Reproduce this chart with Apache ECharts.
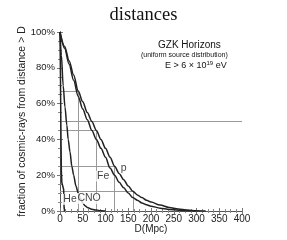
<!DOCTYPE html>
<html><head><meta charset="utf-8">
<script src="https://cdn.jsdelivr.net/npm/echarts@6/dist/echarts.min.js"></script>
<style>html,body{margin:0;padding:0;background:#fff}#c{width:287px;height:240px}</style>
</head><body><div id="c"></div>
<script>
// Data
const pD   = [0,10,20,30,40,50,60,70,80,90,100,110,120,130,140,150,160,170,180,190,200,220,240,260,280,300,320];
const pF   = [100,92,84,76,67,61,55,50,45,40,35,30,25,21,17.5,14,11,9,7.5,6,5,3.3,2,1.1,0.5,0.2,0];
const feD  = [0,10,20,30,40,50,60,70,80,90,100,110,120,130,140,150,160,170,180,190,200,220,240,260,280,300];
const feF  = [100,91,82,73,64,57,51,45,40,35,30,24,20,16,13,10,7.5,6,4.5,3.5,2.7,1.6,0.9,0.4,0.15,0];
const heD  = [0,1,2,3,4,6,8,9,10];
const heF  = [100,75,45,22,16,15,12,2,0];
const cnoD = [0,3,7,11,15,18,22,26,30,35,40,45,50,55,60,70,80,90,100];
const cnoF = [100,87,70,58,48,40,33,25,20,14,10,7,4.5,3,2,1,0.5,0.2,0];
const dropD = [40,80,120,160];
const dropF = [67,45,25,11];
const refLine = 50;
const xTicks = [0,50,100,150,200,250,300,350,400];
const yTicks = [0,20,40,60,80,100];
const curveLabels = [
  {name:'p',   d:140, f:24},
  {name:'Fe',  d:95,  f:19.5},
  {name:'He',  d:22,  f:6.5},
  {name:'CNO', d:64,  f:7}
];

const FONT = 'Liberation Sans, Arial, sans-serif';
const zip = (a,b)=>a.map((v,i)=>[v,b[i]]);
const chart = echarts.init(document.getElementById('c'), null, {renderer:'canvas'});

const dropLines = [];
dropD.forEach((d,i)=>{
  dropLines.push([{coord:[0,dropF[i]]},{coord:[d,dropF[i]]}]);
  dropLines.push([{coord:[d,dropF[i]]},{coord:[d,0]}]);
});
dropLines.push([{coord:[0,refLine]},{coord:[400,refLine]}]);

const curveStyle = {color:'#222', width:1.5};
function curve(name, D, F, extra){
  return Object.assign({
    type:'line', name, data: zip(D,F), showSymbol:false, symbol:'none',
    smooth:0.3, smoothMonotone:'x', lineStyle:curveStyle, z:5, silent:true
  }, extra||{});
}

chart.setOption({
  animation:false,
  title:{text:'distances', left:'center', top:1,
    textStyle:{fontFamily:'Liberation Serif, Times New Roman, serif', fontSize:18.5, fontWeight:'normal', color:'#111'}},
  grid:{left:60, right:45, top:32, bottom:29},
  xAxis:[{
    type:'value', min:0, max:400, interval:50,
    name:'D(Mpc)', nameLocation:'middle', nameGap:13, nameMoveOverlap:false,
    nameTextStyle:{fontFamily:FONT, fontSize:10, color:'#222'},
    axisLine:{lineStyle:{color:'#555'}},
    axisTick:{show:true, inside:true, length:3, lineStyle:{color:'#777'}},
    minorTick:{show:true, splitNumber:4, length:2, lineStyle:{color:'#888'}},
    splitLine:{show:false},
    axisLabel:{fontFamily:FONT, fontSize:10, color:'#222', margin:3,
      formatter:v=>xTicks.includes(v)?String(v):''}
  },{
    type:'value', min:0, max:400, interval:50, position:'top',
    axisLine:{show:true, lineStyle:{color:'#555'}},
    axisTick:{show:true, inside:true, length:3, lineStyle:{color:'#777'}},
    minorTick:{show:true, splitNumber:4, length:2, lineStyle:{color:'#888'}},
    axisLabel:{show:false}, splitLine:{show:false}
  }],
  yAxis:[{
    type:'value', min:0, max:100, interval:20,
    name:'fraction of cosmic-rays from distance > D', nameLocation:'middle', nameGap:32, nameMoveOverlap:false,
    nameTextStyle:{fontFamily:FONT, fontSize:10.5, color:'#222'},
    axisLine:{show:true, lineStyle:{color:'#555'}},
    axisTick:{show:true, inside:true, length:3, lineStyle:{color:'#777'}},
    minorTick:{show:true, splitNumber:4, length:2, lineStyle:{color:'#888'}},
    splitLine:{show:false},
    axisLabel:{fontFamily:FONT, fontSize:9.5, color:'#222', margin:5,
      formatter:v=>yTicks.includes(v)?v+'%':''}
  },{
    type:'value', min:0, max:100, interval:20, position:'right',
    axisLine:{show:true, lineStyle:{color:'#555'}},
    axisTick:{show:true, inside:true, length:3, lineStyle:{color:'#777'}},
    minorTick:{show:true, splitNumber:4, length:2, lineStyle:{color:'#888'}},
    axisLabel:{show:false}, splitLine:{show:false}
  }],
  series:[
    curve('p', pD, pF, {
      markLine:{silent:true, symbol:'none', label:{show:false},
        lineStyle:{color:'#999', width:1, type:'solid'}, data:dropLines, z:1}
    }),
    curve('Fe', feD, feF),
    curve('He', heD, heF, {smooth:false}),
    curve('CNO', cnoD, cnoF),
    {
      type:'scatter', symbolSize:0, silent:true, z:6,
      data: curveLabels.map(l=>({value:[l.d,l.f], name:l.name})),
      label:{show:true, position:'inside', formatter:p=>p.name,
        fontFamily:FONT, fontSize:10.5, color:'#111',
        backgroundColor:'#fff', padding:[0,1]}
    }
  ],
  graphic:[
    {type:'text', left:158, top:40, style:{text:'GZK Horizons', fontFamily:FONT, fontSize:10, fill:'#111'}},
    {type:'text', left:141, top:52, style:{text:'(uniform source distribution)', fontFamily:FONT, fontSize:7, fill:'#111'}},
    {type:'text', left:165, top:60, style:{
      rich:{n:{fontFamily:FONT, fontSize:9, fill:'#111'}, s:{fontFamily:FONT, fontSize:6, fill:'#111', verticalAlign:'top', padding:[0,0,6,0]}},
      text:'{n|E > 6 × 10}{s|19}{n| eV}'}}
  ]
});
</script></body></html>
